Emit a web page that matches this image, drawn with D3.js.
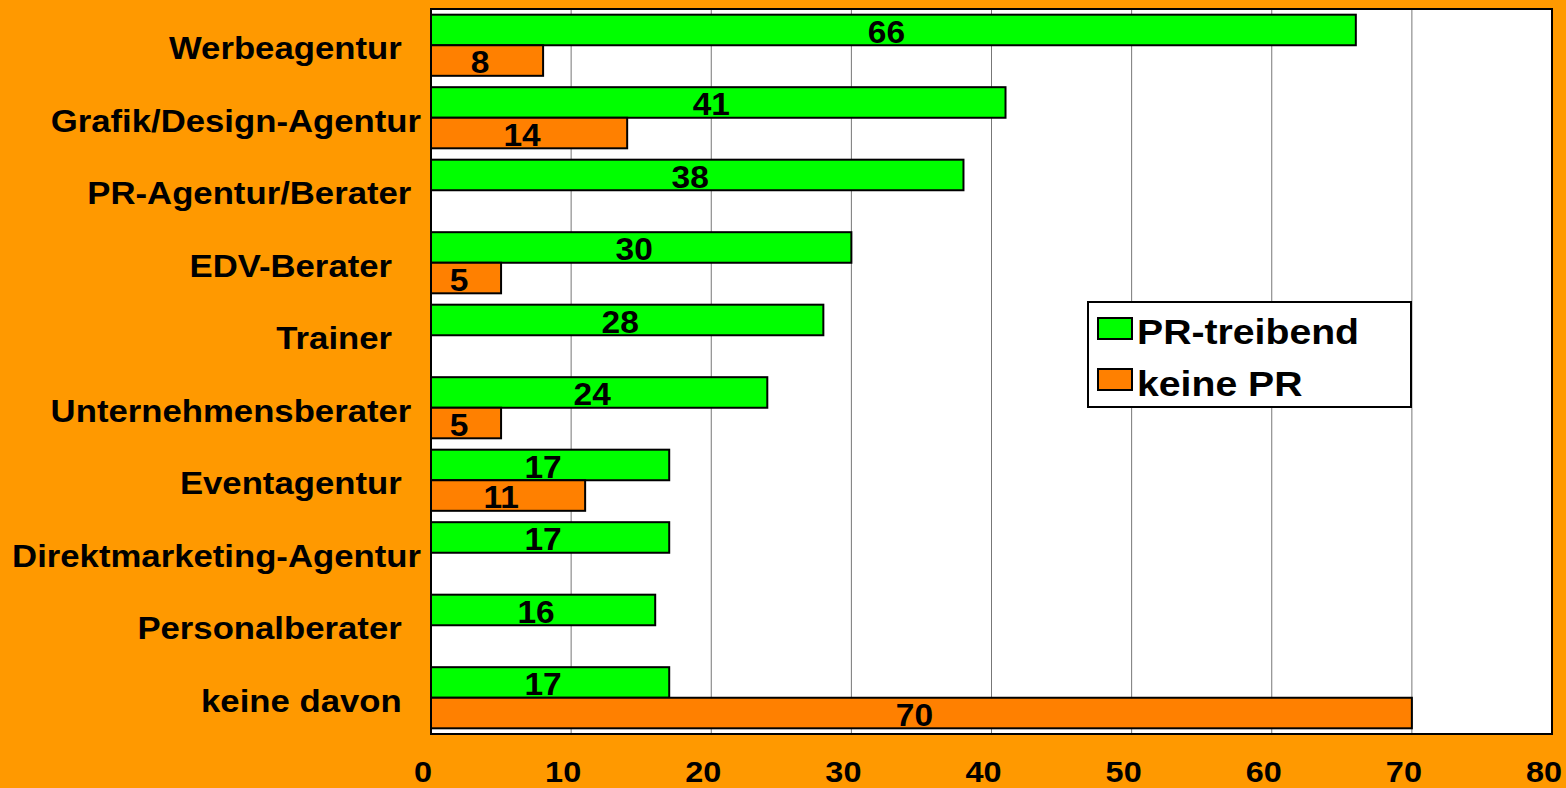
<!DOCTYPE html>
<html>
<head>
<meta charset="utf-8">
<script src="https://cdn.jsdelivr.net/npm/d3@7"></script>
<style>
  html, body { margin: 0; padding: 0; background: #FF9900; }
  svg text { font-family: Arial, "Liberation Sans", sans-serif; font-weight: bold; white-space: pre; }
</style>
</head>
<body>
<div id="chart"></div>
<script>
// Datos del gráfico
const categories = ['Werbeagentur  ', 'Grafik/Design-Agentur', 'PR-Agentur/Berater ', 'EDV-Berater   ',
    'Trainer   ', 'Unternehmensberater ', 'Eventagentur  ', 'Direktmarketing-Agentur',
    'Personalberater  ', 'keine davon  '];
const seriesNames = ['PR-treibend', 'keine PR'];
const prTreibend = [66, 41, 38, 30, 28, 24, 17, 17, 16, 17];
const keinePR = [8, 14, null, 5, null, 5, 11, null, null, 70];
const tickValues = [0, 10, 20, 30, 40, 50, 60, 70, 80];

const colors = ['#00FF00', '#FF8000'];
const width = 1566, height = 788;
const plotLeft = 431, plotRight = 1552, plotTop = 9, plotBottom = 734;
const stretch = 1.12; // el texto original es un poco más ancho

const svg = d3.select('#chart').append('svg')
    .attr('width', width)
    .attr('height', height);

svg.append('rect').attr('width', width).attr('height', height).attr('fill', '#FF9900');

const x = d3.scaleLinear().domain([0, 80]).range([plotLeft, plotRight]);
const y = d3.scaleBand().domain(categories).range([plotTop, plotBottom])
    .paddingInner(0.157).paddingOuter(0.0785);
const ySub = d3.scaleBand().domain(seriesNames).range([0, y.bandwidth()]);

// Fondo del área del gráfico
svg.append('rect')
    .attr('x', plotLeft).attr('y', plotTop)
    .attr('width', plotRight - plotLeft).attr('height', plotBottom - plotTop)
    .attr('fill', '#FFFFFF');

// Líneas de cuadrícula
svg.selectAll('line.grid')
    .data(tickValues.slice(1, -1))
    .enter().append('line')
    .attr('class', 'grid')
    .attr('x1', d => x(d)).attr('x2', d => x(d))
    .attr('y1', plotTop).attr('y2', plotBottom)
    .attr('stroke', '#777777').attr('stroke-width', 1);

// Barras
const rows = [];
categories.forEach((c, i) => {
    rows.push({ cat: c, s: seriesNames[0], v: prTreibend[i], color: colors[0] });
    if (keinePR[i] !== null) rows.push({ cat: c, s: seriesNames[1], v: keinePR[i], color: colors[1] });
});

svg.selectAll('rect.bar')
    .data(rows)
    .enter().append('rect')
    .attr('class', 'bar')
    .attr('x', x(0))
    .attr('y', d => y(d.cat) + ySub(d.s))
    .attr('width', d => x(d.v) - x(0))
    .attr('height', ySub.bandwidth())
    .attr('fill', d => d.color)
    .attr('stroke', '#000').attr('stroke-width', 2);

// Etiquetas de valores
svg.selectAll('text.val')
    .data(rows)
    .enter().append('text')
    .attr('class', 'val')
    .attr('transform', d => `translate(${(x(0) + x(d.v)) / 2 - 7},${y(d.cat) + ySub(d.s) + ySub.bandwidth() / 2 + 2}) scale(1.08,1)`)
    .attr('text-anchor', 'middle')
    .attr('dominant-baseline', 'central')
    .attr('font-size', '31px')
    .attr('fill', '#000')
    .text(d => d.v);

// Borde del área del gráfico
svg.append('rect')
    .attr('x', plotLeft).attr('y', plotTop)
    .attr('width', plotRight - plotLeft).attr('height', plotBottom - plotTop)
    .attr('fill', 'none').attr('stroke', '#000').attr('stroke-width', 2);

// Etiquetas de categorías
svg.selectAll('text.cat')
    .data(categories)
    .enter().append('text')
    .attr('class', 'cat')
    .attr('transform', d => `translate(421,${y(d) + y.bandwidth() / 2 + 14}) scale(${stretch},1)`)
    .attr('text-anchor', 'end')
    .attr('font-size', '31px')
    .attr('fill', '#000')
    .text(d => d);

// Etiquetas del eje X
svg.selectAll('text.tick')
    .data(tickValues)
    .enter().append('text')
    .attr('class', 'tick')
    .attr('transform', d => `translate(${x(d) - 8},782) scale(1.08,1)`)
    .attr('text-anchor', 'middle')
    .attr('font-size', '30px')
    .attr('fill', '#000')
    .text(d => d);

// Leyenda
const legend = svg.append('g').attr('transform', 'translate(1088,302)');
legend.append('rect')
    .attr('width', 323).attr('height', 105)
    .attr('fill', '#fff').attr('stroke', '#000').attr('stroke-width', 2);
seriesNames.forEach((name, i) => {
    legend.append('rect')
        .attr('x', 10).attr('y', 16 + i * 51)
        .attr('width', 34).attr('height', 21)
        .attr('fill', colors[i]).attr('stroke', '#000').attr('stroke-width', 2);
    legend.append('text')
        .attr('transform', `translate(49,${42 + i * 52}) scale(${stretch},1)`)
        .attr('font-size', '35px')
        .attr('fill', '#000')
        .text(name);
});
</script>
</body>
</html>
